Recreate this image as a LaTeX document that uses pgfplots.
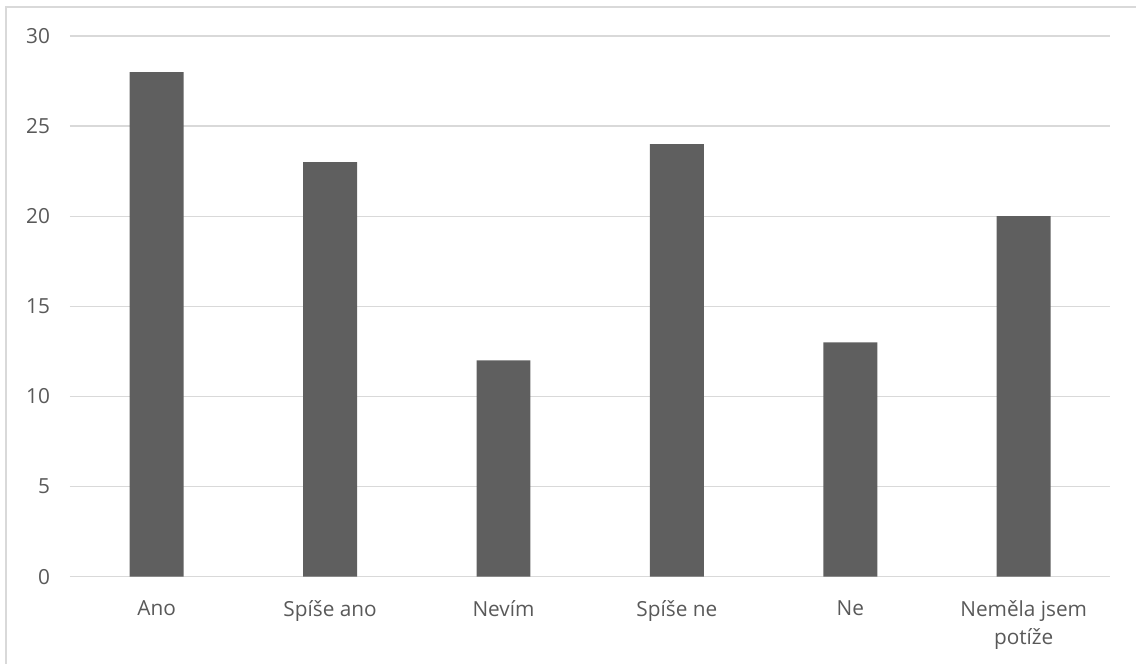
\documentclass[border=0pt]{standalone}
\usepackage{pgfplots}
\pgfplotsset{compat=1.18}
\usepackage{fontspec}
\setmainfont{Open Sans}
\definecolor{barc}{HTML}{5F5F5F}
\definecolor{gridc}{HTML}{D9D9D9}
\definecolor{txt}{HTML}{595959}
\begin{document}
\begin{tikzpicture}
\path (0,0) rectangle (852.75pt,498pt);
\draw[gridc, line width=0.9pt] (4.5pt,0pt) -- (4.5pt,492.75pt) -- (852.75pt,492.75pt);
\begin{axis}[
  at={(52.5pt,65.25pt)}, anchor=south west,
  scale only axis, width=780.75pt, height=405.75pt,
  xmin=-0.5, xmax=5.5, ymin=0, ymax=30,
  ytick={0,5,...,30},
  xtick={0,1,2,3,4,5},
  xticklabels={Ano, Spíše ano, Nevím, Spíše ne, Ne, {Neměla jsem\\potíže}},
  axis x line*=bottom, axis y line*=left,
  y axis line style={draw=none},
  x axis line style={gridc, line width=1.1pt, -},
  tick style={draw=none},
  ymajorgrids, grid style={gridc, line width=0.9pt},
  /pgf/number format/assume math mode=true,
  ticklabel style={font=\fontsize{15.6pt}{21pt}\selectfont, text=txt},
  xticklabel style={align=center, yshift=-10pt},
  yticklabel style={xshift=-11.5pt},
  ybar, bar width=40.5pt,
]
\addplot[fill=barc, draw=none] coordinates {(0,28) (1,23) (2,12) (3,24) (4,13) (5,20)};
\end{axis}
\end{tikzpicture}
\end{document}
